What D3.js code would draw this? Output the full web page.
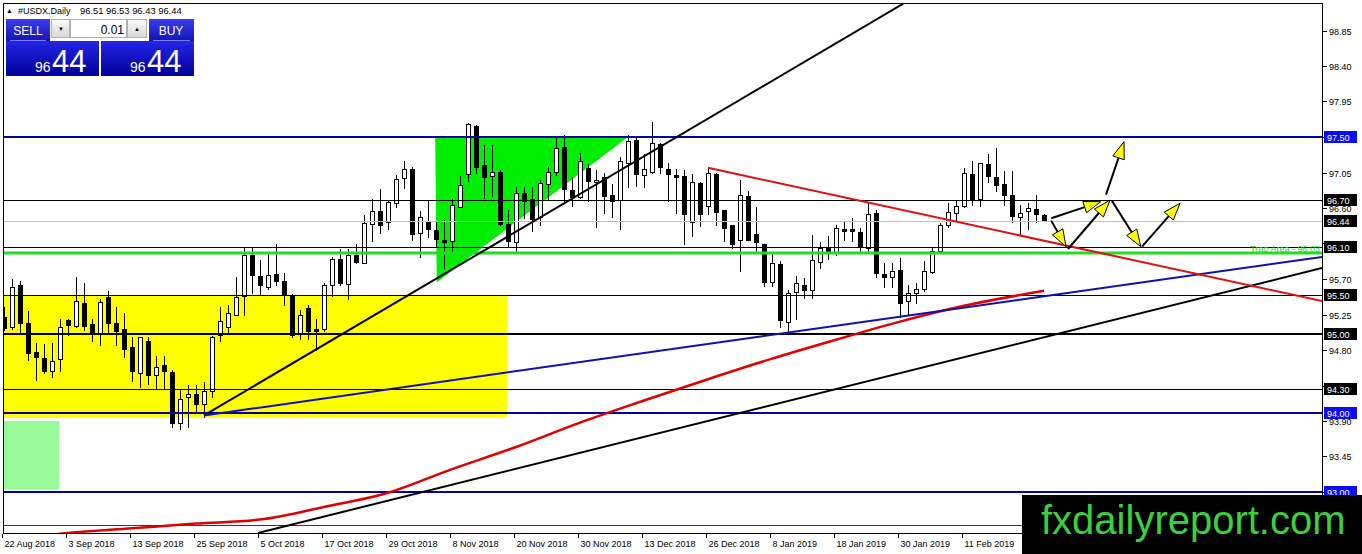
<!DOCTYPE html>
<html>
<head>
<meta charset="utf-8">
<script src="https://cdn.jsdelivr.net/npm/d3@7"></script>
<style>
html, body { margin: 0; padding: 0; background: #fff; }
svg { display: block; font-family: "Liberation Sans", Arial, sans-serif; }
</style>
</head>
<body>
<svg id="chart" width="1362" height="554"></svg>
<script>
// daily bars of #USDX (bar 0 = 22 Aug 2018)
var open = [95.22,95.09,95.62,95.14,94.78,94.70,94.54,94.69,95.18,95.10,
  95.40,95.13,95.02,95.47,95.14,95.07,94.84,94.51,94.91,94.48,
  94.61,94.52,93.87,94.21,94.24,94.12,94.28,94.99,95.09,95.24,
  95.48,96.00,95.74,95.60,95.76,95.67,95.50,95.02,95.33,95.07,
  95.07,95.62,95.95,95.64,96.00,95.90,96.40,96.56,96.42,96.66,
  96.98,97.09,96.28,96.42,96.32,96.19,96.18,96.61,97.03,97.64,
  97.15,97.01,97.06,96.40,96.17,96.79,96.71,96.49,96.90,97.06,
  97.37,96.83,96.74,97.11,96.93,96.99,96.76,96.70,97.17,97.46,
  97.02,97.06,97.41,97.09,97.02,97.01,96.42,96.92,96.63,97.03,
  96.57,96.38,96.19,96.75,96.27,96.14,95.66,95.89,95.16,95.54,
  95.62,95.56,95.92,96.09,96.04,96.33,96.33,96.30,96.09,96.54,
  95.76,95.73,95.81,95.42,95.52,95.57,95.79,96.06,96.38,96.54,
  96.63,97.03,96.71,97.16,96.99,96.90,96.76,96.49,96.56,96.59,
  96.51];
var high = [95.35,95.70,95.67,95.29,94.89,94.88,94.89,95.19,95.19,95.73,
  95.65,95.19,95.45,95.55,95.35,95.27,94.97,94.97,94.97,94.73,
  94.73,94.55,94.31,94.36,94.36,94.40,94.98,95.35,95.37,95.73,
  96.11,96.11,95.94,96.02,96.14,95.78,95.51,95.31,95.37,95.19,
  95.65,95.98,96.08,96.08,96.14,96.51,96.71,96.84,96.70,97.02,
  97.20,97.12,96.56,96.69,96.44,96.45,96.71,97.01,97.68,97.65,
  97.40,97.40,97.08,96.57,96.87,96.87,96.87,96.96,97.12,97.49,
  97.53,96.99,97.30,97.16,97.08,97.04,96.90,97.25,97.53,97.49,
  97.28,97.69,97.42,97.17,97.09,97.08,97.03,96.93,97.11,97.04,
  96.57,96.38,96.96,96.82,96.61,96.14,96.02,95.93,95.56,95.74,
  95.71,96.26,96.17,96.25,96.38,96.44,96.47,96.35,96.66,96.57,
  95.90,95.90,95.97,95.62,95.65,95.93,96.11,96.41,96.66,96.69,
  97.11,97.20,97.17,97.28,97.36,97.07,97.07,96.64,96.66,96.76,
  96.53];
var low = [95.05,95.07,95.00,94.67,94.42,94.51,94.46,94.54,94.99,95.09,
  95.05,94.91,94.86,95.00,94.86,94.71,94.41,94.33,94.37,94.30,
  94.30,93.82,93.80,93.82,94.00,93.95,94.20,94.91,95.02,95.24,
  95.24,95.52,95.51,95.57,95.62,95.37,94.97,94.94,94.94,94.80,
  95.04,95.48,95.62,95.45,95.90,95.90,96.18,96.28,96.33,96.61,
  96.85,96.19,95.98,96.23,96.11,95.84,96.06,96.61,96.94,97.04,
  96.73,96.75,96.38,96.11,96.06,96.47,96.31,96.38,96.70,97.02,
  96.66,96.63,96.73,96.69,96.36,96.54,96.49,96.33,96.87,96.88,
  96.87,97.04,97.04,96.69,96.54,96.14,96.25,96.37,96.52,96.38,
  96.18,96.09,95.80,96.19,96.04,95.61,95.61,95.09,95.00,95.19,
  95.46,95.46,95.84,95.95,96.00,96.19,96.18,96.04,96.04,95.73,
  95.60,95.60,95.22,95.24,95.39,95.55,95.78,96.06,96.36,96.44,
  96.61,96.64,96.63,96.93,96.82,96.64,96.42,96.27,96.33,96.42,
  96.43];
var close = [95.08,95.60,95.14,94.76,94.71,94.54,94.66,95.09,95.12,95.42,
  95.10,95.00,95.41,95.14,95.04,94.81,94.54,94.97,94.48,94.59,
  94.54,93.88,94.18,94.24,94.12,94.28,94.97,95.17,95.27,95.47,
  96.00,95.75,95.62,95.75,95.67,95.50,94.99,95.24,95.04,95.04,
  95.62,95.95,95.65,96.00,95.92,96.41,96.56,96.38,96.68,96.97,
  97.09,96.27,96.49,96.33,96.21,96.17,96.64,96.89,97.66,97.12,
  96.99,97.06,96.40,96.18,96.79,96.69,96.46,96.92,97.06,97.36,
  96.84,96.74,97.20,96.94,96.96,96.75,96.69,97.20,97.45,97.03,
  97.09,97.42,97.12,97.03,96.99,96.52,96.93,96.52,97.04,96.55,
  96.35,96.14,96.76,96.19,96.17,95.66,95.90,95.18,95.52,95.65,
  95.56,95.94,96.09,96.04,96.35,96.31,96.31,96.12,96.52,95.78,
  95.73,95.80,95.40,95.52,95.57,95.80,96.06,96.38,96.55,96.63,
  97.04,96.70,97.17,97.01,96.89,96.76,96.50,96.54,96.60,96.52,
  96.44];

// time axis labels, one every 8 bars
var tickLabels = ["22 Aug 2018","3 Sep 2018","13 Sep 2018","25 Sep 2018","5 Oct 2018",
  "17 Oct 2018","29 Oct 2018","8 Nov 2018","20 Nov 2018","30 Nov 2018","13 Dec 2018",
  "26 Dec 2018","8 Jan 2019","18 Jan 2019","30 Jan 2019","11 Feb 2019"];
var priceTicks = [98.85,98.40,97.95,97.50,97.05,96.60,96.15,95.70,95.25,94.80,94.35,93.90,93.45,93.00];

// moving average (red curve), sampled at these bars
var maBars = [0,8,16,24,32,40,48,56,64,72,80,88,96,104,112,120,130];
var maValues = [92.38,92.48,92.54,92.60,92.65,92.81,92.99,93.29,93.57,93.88,94.16,94.43,94.69,94.93,95.16,95.36,95.55];

// horizontal levels
var levelPrices = [97.50,96.70,96.44,96.10,95.50,95.00,94.30,94.00,93.00];
var trapPrice = 96.03;
var lowRedPrice = 92.58;

// drawn objects as [bar, price] points
var trendUp   = [[25, 93.97], [112.4, 99.19]];
var trendBlue = [[25, 93.97], [164.75, 95.98]];
var trendLow  = [[31.75, 92.48], [164.75, 95.84]];
var trendDown = [[88, 97.11], [164.75, 95.42]];
var triangle  = [[53.9, 97.50], [78.0, 97.50], [54.1, 95.66]];
var yellowBox = [[-1, 95.50], [62.9, 93.94]];
var greenBox  = [[-1, 93.90], [6.9, 93.03]];
var arrows = [
  [[130.9, 96.47], [137.1, 96.68]],
  [[130.9, 96.44], [132.75, 96.11]],
  [[133.0, 96.08], [138.25, 96.70]],
  [[137.75, 96.77], [140.0, 97.44]],
  [[138.5, 96.69], [142.1, 96.11]],
  [[142.25, 96.11], [147.0, 96.66]]
];

var svg = d3.select("#chart");
var L = 3, R = 1322, T = 4, B = 533;

var x = d3.scaleLinear().domain([0, 164.75]).range([4, R]);
var y = d3.scaleLinear().domain([93.0, 97.5]).range([492, 137]);

var defs = svg.append("defs");
defs.append("clipPath").attr("id", "clip")
  .append("rect").attr("x", L + 1).attr("y", T).attr("width", R - L - 1).attr("height", B - T);

function grad(id, c1, c2) {
  var g = defs.append("linearGradient").attr("id", id)
    .attr("x1", 0).attr("y1", 0).attr("x2", 0).attr("y2", 1);
  g.append("stop").attr("offset", "0%").attr("stop-color", c1);
  g.append("stop").attr("offset", "100%").attr("stop-color", c2);
}
grad("btn", "#3c3cf0", "#1414b4");
grad("big", "#2424e6", "#00009a");
grad("gray", "#fbfbfb", "#d6d6d6");

var plot = svg.append("g").attr("clip-path", "url(#clip)");

// background shapes
function boxRect(b, fill) {
  plot.append("rect")
    .attr("x", x(b[0][0])).attr("y", y(b[0][1]))
    .attr("width", x(b[1][0]) - x(b[0][0]))
    .attr("height", y(b[1][1]) - y(b[0][1]))
    .attr("fill", fill);
}
boxRect(yellowBox, "#ffff00");
boxRect(greenBox, "#98fb98");

plot.append("polygon")
  .attr("points", triangle.map(p => x(p[0]) + "," + y(p[1])).join(" "))
  .attr("fill", "#00ee00");

// candles
var bars = d3.range(open.length).map(i => ({ i: i, o: open[i], h: high[i], l: low[i], c: close[i] }));
var candle = plot.selectAll("g.bar").data(bars).join("g").attr("class", "bar");
candle.append("line")
  .attr("x1", d => x(d.i) + 0.5).attr("x2", d => x(d.i) + 0.5)
  .attr("y1", d => Math.round(y(d.h))).attr("y2", d => Math.round(y(d.l)) + 1)
  .attr("stroke", "#000").attr("stroke-width", 1);
candle.append("rect")
  .attr("x", d => x(d.i) - 1.5)
  .attr("width", 4)
  .attr("y", d => Math.round(y(Math.max(d.o, d.c))) + 0.5)
  .attr("height", d => Math.max(1, Math.round(y(Math.min(d.o, d.c))) - Math.round(y(Math.max(d.o, d.c)))))
  .attr("fill", d => d.c >= d.o ? "#fff" : "#000")
  .attr("stroke", "#000").attr("stroke-width", 1);

// horizontal levels
function levelStyle(p) {
  if (p === 97.50 || p === 94.00 || p === 93.00) return { stroke: "#0000a4", w: 2, box: "#0a0aff" };
  if (p === 96.44) return { stroke: "#c0c0c0", w: 1, box: "#000" };
  if (p === 95.00) return { stroke: "#000", w: 2, box: "#000" };
  return { stroke: "#000", w: 1, box: "#000" };
}
levelPrices.forEach(function (p) {
  var s = levelStyle(p);
  var yy = Math.round(y(p)) + (s.w === 1 ? 0.5 : 0);
  plot.append("line").attr("x1", L).attr("x2", R).attr("y1", yy).attr("y2", yy)
    .attr("stroke", s.stroke).attr("stroke-width", s.w);
});
plot.append("line").attr("x1", L).attr("x2", R)
  .attr("y1", y(trapPrice)).attr("y2", y(trapPrice))
  .attr("stroke", "#22dd22").attr("stroke-width", 3);
plot.append("line").attr("x1", L).attr("x2", R)
  .attr("y1", Math.round(y(lowRedPrice)) + 0.5).attr("y2", Math.round(y(lowRedPrice)) + 0.5)
  .attr("stroke", "#c00000").attr("stroke-width", 1);
plot.append("text").attr("x", R - 2).attr("y", y(trapPrice) - 1)
  .attr("text-anchor", "end").attr("font-size", 9).attr("fill", "#22dd22")
  .text("Trap Area - 96.03");

// moving average
var maLine = d3.line().x(d => x(d[0])).y(d => y(d[1])).curve(d3.curveMonotoneX);
plot.append("path").datum(maBars.map((b, k) => [b, maValues[k]]))
  .attr("d", maLine).attr("fill", "none").attr("stroke", "#e00000").attr("stroke-width", 2.5);

// trend lines
function trend(pts, color) {
  plot.append("line")
    .attr("x1", x(pts[0][0])).attr("y1", y(pts[0][1]))
    .attr("x2", x(pts[1][0])).attr("y2", y(pts[1][1]))
    .attr("stroke", color).attr("stroke-width", 2);
}
trend(trendLow, "#000");
trend(trendUp, "#000");
trend(trendBlue, "#1010b0");
trend(trendDown, "#e01010");

// forecast arrows
arrows.forEach(function (a) {
  var x1 = x(a[0][0]), y1 = y(a[0][1]), x2 = x(a[1][0]), y2 = y(a[1][1]);
  var ang = Math.atan2(y2 - y1, x2 - x1), len = 17, hw = 6;
  var bx = x2 - len * Math.cos(ang), by = y2 - len * Math.sin(ang);
  var nx = -Math.sin(ang) * hw, ny = Math.cos(ang) * hw;
  plot.append("line").attr("x1", x1).attr("y1", y1).attr("x2", bx).attr("y2", by)
    .attr("stroke", "#000").attr("stroke-width", 2);
  plot.append("polygon")
    .attr("points", [[x2, y2], [bx + nx, by + ny], [bx - nx, by - ny]].map(p => p.join(",")).join(" "))
    .attr("fill", "#ffff00").attr("stroke", "#000").attr("stroke-width", 1);
});

// frame
var frame = svg.append("g").attr("stroke", "#000").attr("stroke-width", 1);
frame.append("line").attr("x1", L).attr("x2", R + 1).attr("y1", T - 0.5).attr("y2", T - 0.5);
frame.append("line").attr("x1", L + 0.5).attr("x2", L + 0.5).attr("y1", T - 1).attr("y2", B + 1);
frame.append("line").attr("x1", R + 0.5).attr("x2", R + 0.5).attr("y1", T - 1).attr("y2", B + 1);
frame.append("line").attr("x1", L).attr("x2", R + 1).attr("y1", B + 0.5).attr("y2", B + 0.5);

// price axis: tick labels that would sit under a level box are left out
var pAxis = svg.append("g");
priceTicks.forEach(function (p) {
  var yy = Math.round(y(p)) + 0.5;
  pAxis.append("line").attr("x1", R + 1).attr("x2", R + 5).attr("y1", yy).attr("y2", yy).attr("stroke", "#000");
  var covered = levelPrices.some(q => Math.abs(y(q) - y(p)) < 7);
  if (!covered) {
    pAxis.append("text").attr("x", R + 7).attr("y", yy + 3.5).attr("font-size", 9).attr("fill", "#000").text(p.toFixed(2));
  }
});
levelPrices.forEach(function (p) {
  var s = levelStyle(p), yy = Math.round(y(p));
  pAxis.append("rect").attr("x", R + 2).attr("y", yy - 6).attr("width", 33).attr("height", 12).attr("fill", s.box);
  pAxis.append("text").attr("x", R + 5).attr("y", yy + 3.5).attr("font-size", 9).attr("fill", "#fff").text(p.toFixed(2));
});

// time axis
var tAxis = svg.append("g");
tickLabels.forEach(function (t, k) {
  var xx = x(k * 8) - 1.5;
  tAxis.append("line").attr("x1", xx).attr("x2", xx).attr("y1", B + 1).attr("y2", B + 5).attr("stroke", "#000");
  tAxis.append("text").attr("x", xx + 2).attr("y", B + 14).attr("font-size", 9).attr("fill", "#000").text(t);
});

// title
svg.append("text").attr("x", 6).attr("y", 13).attr("font-size", 7).text("\u25B2");
svg.append("text").attr("x", 18).attr("y", 14).attr("font-size", 9).text("#USDX,Daily");
svg.append("text").attr("x", 80).attr("y", 14).attr("font-size", 9.4).text("96.51 96.53 96.43 96.44");

// one-click trading panel
var panel = svg.append("g");
panel.append("rect").attr("x", 5).attr("y", 18).attr("width", 190).attr("height", 59).attr("fill", "#fff");
panel.append("rect").attr("x", 6).attr("y", 19).attr("width", 44).attr("height", 22).attr("fill", "url(#btn)");
panel.append("rect").attr("x", 149).attr("y", 19).attr("width", 45).attr("height", 22).attr("fill", "url(#btn)");
panel.append("rect").attr("x", 6).attr("y", 41).attr("width", 93).attr("height", 35).attr("fill", "url(#big)");
panel.append("rect").attr("x", 101).attr("y", 41).attr("width", 93).attr("height", 35).attr("fill", "url(#big)");
panel.append("line").attr("x1", 10).attr("x2", 46).attr("y1", 40.5).attr("y2", 40.5).attr("stroke", "#7a7aff");
panel.append("line").attr("x1", 153).attr("x2", 190).attr("y1", 40.5).attr("y2", 40.5).attr("stroke", "#7a7aff");
panel.append("rect").attr("x", 51.5).attr("y", 19.5).attr("width", 18).attr("height", 18)
  .attr("fill", "url(#gray)").attr("stroke", "#b0b0b0");
panel.append("rect").attr("x", 70.5).attr("y", 19.5).attr("width", 56).attr("height", 18)
  .attr("fill", "#fff").attr("stroke", "#b0b0b0");
panel.append("rect").attr("x", 127.5).attr("y", 19.5).attr("width", 19).attr("height", 18)
  .attr("fill", "url(#gray)").attr("stroke", "#b0b0b0");
panel.append("text").attr("x", 61).attr("y", 31).attr("text-anchor", "middle").attr("font-size", 6).text("\u25BC");
panel.append("text").attr("x", 137).attr("y", 31).attr("text-anchor", "middle").attr("font-size", 6).text("\u25B2");
panel.append("text").attr("x", 124).attr("y", 34).attr("text-anchor", "end").attr("font-size", 12).text("0.01");
panel.append("text").attr("x", 28).attr("y", 35).attr("text-anchor", "middle").attr("font-size", 12).attr("fill", "#fff").text("SELL");
panel.append("text").attr("x", 171).attr("y", 35).attr("text-anchor", "middle").attr("font-size", 12).attr("fill", "#fff").text("BUY");
[[35, 52], [130, 147]].forEach(function (p) {
  panel.append("text").attr("x", p[0]).attr("y", 72).attr("font-size", 14).attr("fill", "#fff").text("96");
  panel.append("text").attr("x", p[1]).attr("y", 72).attr("font-size", 31).attr("fill", "#fff").text("44");
});

// watermark
svg.append("rect").attr("x", 1022).attr("y", 495).attr("width", 340).attr("height", 59).attr("fill", "#000");
svg.append("text").attr("x", 1041).attr("y", 534).attr("font-size", 40).attr("fill", "#3ad23a").text("fxdailyreport.com");
</script>
</body>
</html>
